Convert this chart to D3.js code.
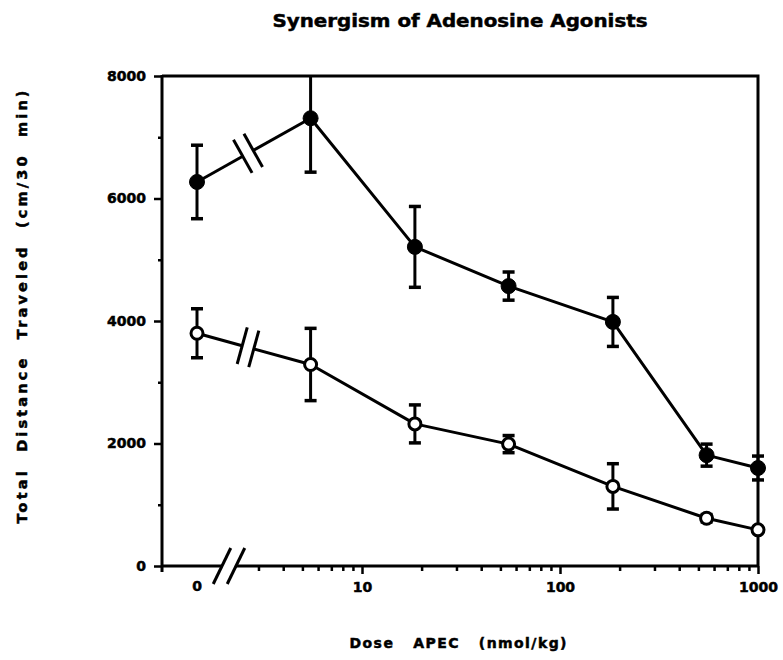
<!DOCTYPE html>
<html>
<head>
<meta charset="utf-8">
<script src="https://cdn.jsdelivr.net/npm/d3@7/dist/d3.min.js"></script>
<style>
  html, body { margin: 0; padding: 0; background: #fff; }
  svg text { font-family: "DejaVu Sans", "Liberation Sans", Arial, sans-serif; font-weight: bold; fill: #000;
             stroke: #000; stroke-width: 0.5px; }
</style>
</head>
<body>
<svg id="chart" width="783" height="660"></svg>
<script>
// Doses of APEC (nmol/kg); 0 = vehicle, drawn left of the axis break
const doses = [0, 5.5, 18.5, 55, 185, 550, 1000];

// Combined treatment (filled circles): mean and SEM
const combinedMean = [6270, 7310, 5210, 4570, 3985, 1810, 1600];
const combinedSem  = [600, 880, 660, 230, 400, 180, 195];

// APEC alone (open circles): mean and SEM
const apecMean = [3800, 3290, 2320, 1990, 1300, 780, 590];
const apecSem  = [400, 590, 310, 140, 370, 60, 40];

const yMajorTicks = [0, 2000, 4000, 6000, 8000];
const yMinorTicks = [1000, 3000, 5000, 7000];
const xMajorTicks = [10, 100, 1000];
const xMinorTicks = [3, 4, 5, 6, 7, 8, 9, 20, 30, 40, 50, 60, 70, 80, 90,
                     200, 300, 400, 500, 600, 700, 800, 900];

const titleText = "Synergism of Adenosine Agonists";
const xLabelText = "Dose   APEC   (nmol/kg)";
const yLabelText = "Total   Distance   Traveled   (cm/30   min)";

const svg = d3.select("#chart");
const frame = { left: 162, right: 758, top: 76, bottom: 566 };

const xLog = d3.scaleLog().domain([10, 1000]).range([362, frame.right]);
const zeroOffset = 165;               // distance of the vehicle slot left of dose 10
const xPos = d => d === 0 ? xLog(10) - zeroOffset : xLog(d);
const y = d3.scaleLinear().domain([0, 8000]).range([frame.bottom, frame.top]).clamp(true);

const ink = "#000";

// ---- Frame: top and right border ----
svg.append("path")
  .attr("d", `M${frame.left},${frame.top}H${frame.right}V${frame.bottom}`)
  .attr("fill", "none").attr("stroke", ink).attr("stroke-width", 3);

// ---- Y axis ----
svg.append("line")
  .attr("x1", frame.left).attr("x2", frame.left)
  .attr("y1", frame.top - 1).attr("y2", frame.bottom + 6)
  .attr("stroke", ink).attr("stroke-width", 3);

const yMajor = svg.append("g").attr("transform", `translate(${frame.left},0)`)
  .call(d3.axisLeft(y).tickValues(yMajorTicks).tickSize(8).tickPadding(8).tickFormat(d3.format("d")));
const yMinor = svg.append("g").attr("transform", `translate(${frame.left},0)`)
  .call(d3.axisLeft(y).tickValues(yMinorTicks).tickSize(4).tickFormat(""));

// ---- X axis with break between vehicle and dosed groups ----
const axisBreakX = xLog(10) - 133;
const axisGap = 7;
svg.append("line")
  .attr("x1", frame.left - 1).attr("x2", axisBreakX - axisGap)
  .attr("y1", frame.bottom).attr("y2", frame.bottom)
  .attr("stroke", ink).attr("stroke-width", 3);
svg.append("line")
  .attr("x1", axisBreakX + axisGap).attr("x2", frame.right)
  .attr("y1", frame.bottom).attr("y2", frame.bottom)
  .attr("stroke", ink).attr("stroke-width", 3);

// axis break slashes
[-axisGap, axisGap].forEach(dx => {
  const a = -64 * Math.PI / 180, h = 20;
  const cx = axisBreakX + dx, cy = frame.bottom;
  svg.append("line")
    .attr("x1", cx - h * Math.cos(a)).attr("y1", cy - h * Math.sin(a))
    .attr("x2", cx + h * Math.cos(a)).attr("y2", cy + h * Math.sin(a))
    .attr("stroke", ink).attr("stroke-width", 3);
});

const xMajor = svg.append("g").attr("transform", `translate(0,${frame.bottom})`)
  .call(d3.axisBottom(xLog).tickValues(xMajorTicks).tickSize(8).tickPadding(8).tickFormat(d3.format("d")));
const xMinor = svg.append("g").attr("transform", `translate(0,${frame.bottom})`)
  .call(d3.axisBottom(xLog).tickValues(xMinorTicks).tickSize(5).tickFormat(""));

[yMajor, yMinor, xMajor, xMinor].forEach(g => {
  g.select(".domain").remove();
  g.selectAll(".tick line")
    .style("stroke", ink).style("stroke-width", "2.5px");
  g.selectAll(".tick text").style("font-size", "14px");
});

// label for the vehicle slot
svg.append("text")
  .attr("x", xPos(0)).attr("y", frame.bottom + 25)
  .attr("text-anchor", "middle").style("font-size", "14px")
  .text("0");

// ---- Series ----
const series = [
  { mean: combinedMean, sem: combinedSem, filled: true },
  { mean: apecMean, sem: apecSem, filled: false }
];

series.forEach(s => {
  const pts = doses.map((d, i) => ({ x: xPos(d), y: y(s.mean[i]), d, i }));
  const g = svg.append("g");

  // segment vehicle -> first dose with a "//" break
  const p0 = pts[0], p1 = pts[1];
  const dx = p1.x - p0.x, dy = p1.y - p0.y, len = Math.hypot(dx, dy);
  const ux = dx / len, uy = dy / len, nx = -uy, ny = ux;
  const t = (axisBreakX + 19 - p0.x) / dx;
  const cx = p0.x + dx * t, cy = p0.y + dy * t;
  const gap = 6, half = 19;
  g.append("line").attr("x1", p0.x).attr("y1", p0.y)
    .attr("x2", cx - ux * gap).attr("y2", cy - uy * gap)
    .attr("stroke", ink).attr("stroke-width", 3);
  g.append("line").attr("x1", cx + ux * gap).attr("y1", cy + uy * gap)
    .attr("x2", p1.x).attr("y2", p1.y)
    .attr("stroke", ink).attr("stroke-width", 3);
  [-gap, gap].forEach(o => {
    const sx = cx + ux * o, sy = cy + uy * o;
    g.append("line")
      .attr("x1", sx - nx * half).attr("y1", sy - ny * half)
      .attr("x2", sx + nx * half).attr("y2", sy + ny * half)
      .attr("stroke", ink).attr("stroke-width", 3);
  });

  // remaining connected segments
  g.append("path")
    .attr("d", d3.line().x(p => p.x).y(p => p.y)(pts.slice(1)))
    .attr("fill", "none").attr("stroke", ink).attr("stroke-width", 3)
    .attr("stroke-linejoin", "round");

  // error bars
  pts.forEach(p => {
    const top = y(s.mean[p.i] + s.sem[p.i]);
    const bot = y(s.mean[p.i] - s.sem[p.i]);
    g.append("line").attr("x1", p.x).attr("x2", p.x).attr("y1", top).attr("y2", bot)
      .attr("stroke", ink).attr("stroke-width", 3);
    [top, bot].forEach(yy => {
      if (yy <= frame.top) return;
      g.append("line").attr("x1", p.x - 6).attr("x2", p.x + 6).attr("y1", yy).attr("y2", yy)
        .attr("stroke", ink).attr("stroke-width", 3.5);
    });
  });

  // markers
  g.selectAll("circle").data(pts).join("circle")
    .attr("cx", p => p.x).attr("cy", p => p.y)
    .attr("r", s.filled ? 7.5 : 6)
    .attr("fill", s.filled ? ink : "#fff")
    .attr("stroke", ink).attr("stroke-width", s.filled ? 1 : 3);
});

// ---- Titles ----
svg.append("text")
  .attr("x", 460).attr("y", 27)
  .attr("text-anchor", "middle").style("font-size", "18px")
  .attr("textLength", 375).attr("lengthAdjust", "spacingAndGlyphs")
  .text(titleText);

svg.append("text")
  .attr("x", 458).attr("y", 648)
  .attr("text-anchor", "middle").style("font-size", "14px")
  .style("white-space", "pre")
  .attr("textLength", 217).attr("lengthAdjust", "spacing")
  .text(xLabelText);

svg.append("text")
  .attr("transform", "translate(27,307) rotate(-90)")
  .attr("text-anchor", "middle").style("font-size", "14.5px")
  .style("white-space", "pre")
  .attr("textLength", 433).attr("lengthAdjust", "spacing")
  .text(yLabelText.replace(/   /g, "  "));
</script>
</body>
</html>
